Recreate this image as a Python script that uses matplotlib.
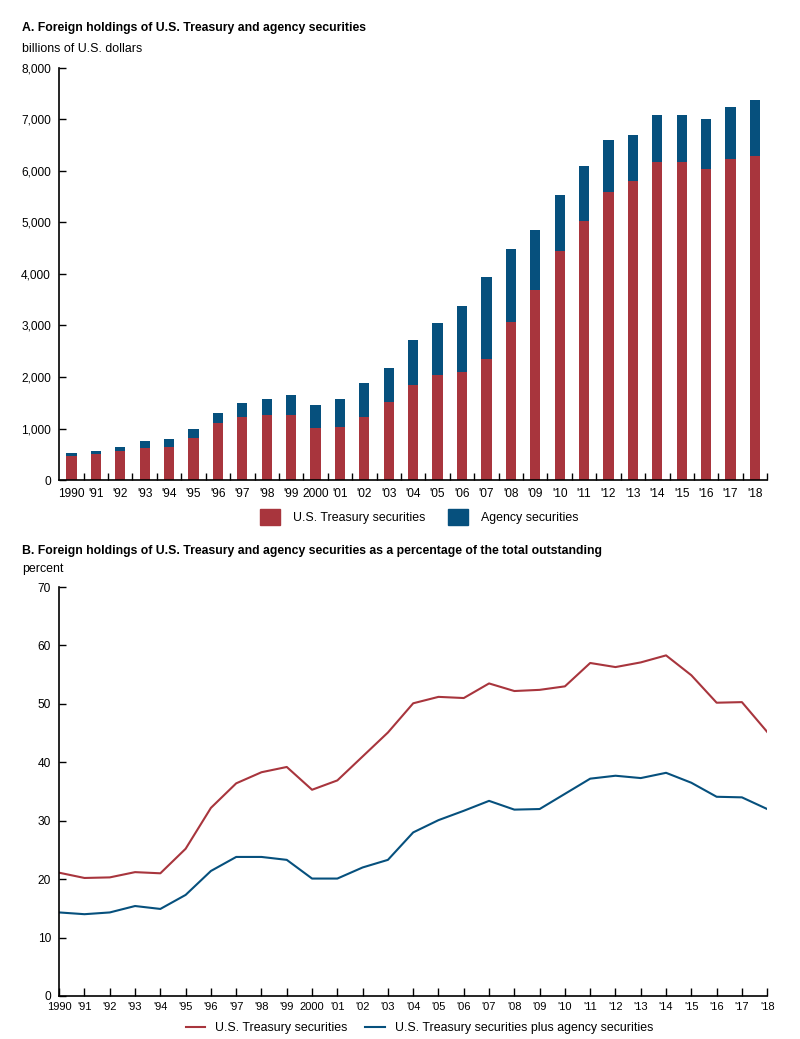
import numpy as np
import matplotlib.pyplot as plt
from matplotlib.patches import Patch
from matplotlib.lines import Line2D

plt.rcParams['font.family'] = ['Liberation Sans', 'DejaVu Sans']

years = list(range(1990, 2019))
year_labels = ['1990', "'91", "'92", "'93", "'94", "'95", "'96", "'97", "'98", "'99",
               '2000', "'01", "'02", "'03", "'04", "'05", "'06", "'07", "'08", "'09",
               "'10", "'11", "'12", "'13", "'14", "'15", "'16", "'17", "'18"]

# panel A, billions of dollars
treasury = [474, 507, 559, 630, 643, 819, 1098, 1228, 1267, 1261,
            1001, 1027, 1228, 1514, 1842, 2030, 2101, 2348, 3074, 3684,
            4442, 5019, 5584, 5804, 6174, 6167, 6031, 6232, 6284]
total = [520, 572, 650, 760, 792, 981, 1293, 1488, 1579, 1657,
         1449, 1573, 1884, 2177, 2724, 3048, 3372, 3943, 4488, 4851,
         5538, 6103, 6602, 6699, 7088, 7088, 7017, 7237, 7374]
agency = [t - r for t, r in zip(total, treasury)]

# panel B, percent of total outstanding
pct_treasury = [21.1, 20.2, 20.3, 21.2, 21.0, 25.2, 32.2, 36.4, 38.3, 39.2,
                35.3, 36.9, 41.0, 45.1, 50.1, 51.2, 51.0, 53.5, 52.2, 52.4,
                53.0, 57.0, 56.3, 57.1, 58.3, 54.9, 50.2, 50.3, 45.2]
pct_both = [14.3, 14.0, 14.3, 15.4, 14.9, 17.3, 21.4, 23.8, 23.8, 23.3,
            20.1, 20.1, 22.0, 23.3, 28.0, 30.1, 31.7, 33.4, 31.9, 32.0,
            34.6, 37.2, 37.7, 37.3, 38.2, 36.5, 34.1, 34.0, 32.0]

red = '#A8353D'
blue = '#06507D'
fs = 8.9     # body text
tfs = 8.6    # tick labels

fig = plt.figure(figsize=(8, 10.39), dpi=100)

# ---- panel A
ax1 = fig.add_axes([0.074, 0.538, 0.885, 0.3966])
x = np.arange(len(years))
ax1.bar(x, treasury, width=0.42, color=red)
ax1.bar(x, agency, width=0.42, bottom=treasury, color=blue)
ax1.set_xlim(-0.5, len(years) - 0.5)
ax1.set_ylim(0, 8000)
ax1.set_yticks(range(0, 8001, 1000))
ax1.set_yticklabels([f'{v:,}' for v in range(0, 8001, 1000)])
# tick marks between bars, labels under bars
ax1.set_xticks(np.arange(0.5, len(years), 1.0))
ax1.set_xticklabels([])
ax1.set_xticks(x, minor=True)
ax1.set_xticklabels(year_labels, minor=True)
ax1.tick_params(axis='x', which='major', direction='in', length=5, width=1)
ax1.tick_params(axis='x', which='minor', length=0, pad=6, labelsize=tfs)
ax1.tick_params(axis='y', direction='in', length=5, width=1, pad=6, labelsize=tfs)
for s in ['top', 'right']:
    ax1.spines[s].set_visible(False)
for s in ['left', 'bottom']:
    ax1.spines[s].set_linewidth(1.2)

fig.text(0.0275, 0.9735, 'A. Foreign holdings of U.S. Treasury and agency securities',
         fontsize=8.8, fontweight='bold', va='center')
fig.text(0.0275, 0.953, 'billions of U.S. dollars', fontsize=fs, va='center')

handles = [Patch(color=red, label='U.S. Treasury securities'),
           Patch(color=blue, label='Agency securities')]
fig.legend(handles=handles, loc='center', bbox_to_anchor=(0.524, 0.5024), ncol=2,
           frameon=False, fontsize=fs, handlelength=1.6, handleheight=1.6,
           columnspacing=1.9, handletextpad=1.0)

# ---- panel B
ax2 = fig.add_axes([0.074, 0.0414, 0.885, 0.3936])
ax2.plot(years, pct_treasury, color=red, lw=1.5)
ax2.plot(years, pct_both, color=blue, lw=1.5)
ax2.set_xlim(1990, 2018)
ax2.set_ylim(0, 70)
ax2.set_yticks(range(0, 71, 10))
ax2.set_xticks(years)
ax2.set_xticklabels(year_labels)
ax2.tick_params(axis='x', direction='in', length=6, width=1, pad=4, labelsize=8)
ax2.tick_params(axis='y', direction='in', length=5, width=1, pad=6, labelsize=tfs)
for s in ['top', 'right']:
    ax2.spines[s].set_visible(False)
for s in ['left', 'bottom']:
    ax2.spines[s].set_linewidth(1.2)

fig.text(0.0275, 0.4697, 'B. Foreign holdings of U.S. Treasury and agency securities as a percentage of the total outstanding',
         fontsize=8.8, fontweight='bold', va='center')
fig.text(0.0275, 0.452, 'percent', fontsize=fs, va='center')

lh = [Line2D([], [], color=red, lw=1.5, label='U.S. Treasury securities'),
      Line2D([], [], color=blue, lw=1.5, label='U.S. Treasury securities plus agency securities')]
fig.legend(handles=lh, loc='center', bbox_to_anchor=(0.524, 0.0106), ncol=2,
           frameon=False, fontsize=fs, handlelength=1.6, handletextpad=0.8,
           columnspacing=1.4)

fig.savefig('out.png', dpi=100)
